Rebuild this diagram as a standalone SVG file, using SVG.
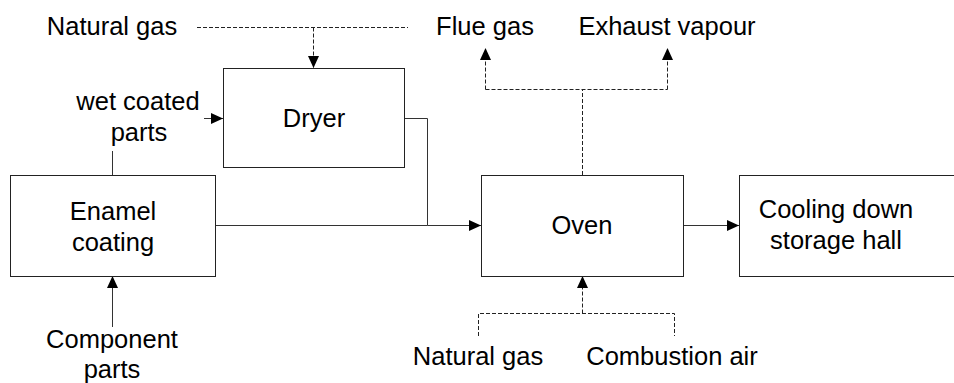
<svg xmlns="http://www.w3.org/2000/svg" width="954" height="383" viewBox="0 0 954 383">
<style>
.box{fill:#fff;stroke:#222;stroke-width:1}
.ln{fill:none;stroke:#333;stroke-width:1}
.dl{fill:none;stroke:#222;stroke-width:1;stroke-dasharray:4,2}
text{font-family:"Liberation Sans",Arial,sans-serif;font-size:25.5px;fill:#000;text-anchor:middle}
</style>
<defs>
<marker id="ah" markerUnits="userSpaceOnUse" markerWidth="12" markerHeight="11" refX="12" refY="5.5" orient="auto" viewBox="0 0 12 11">
<path d="M0,0 L12,5.5 L0,11 z" fill="#000"/>
</marker>
</defs>
<rect width="954" height="383" fill="#fff"/>
<g id="connectors">
<path class="dl" d="M197,27.5 H408"/>
<path class="dl" d="M313.5,27.5 V68" marker-end="url(#ah)"/>
<path class="ln" d="M112.5,175 V151"/>
<path class="ln" d="M204,118.5 H223" marker-end="url(#ah)"/>
<path class="ln" d="M404,118.5 H427.5 V225.5 H481" marker-end="url(#ah)"/>
<path class="ln" d="M215,225.5 H427.5"/>
<path class="ln" d="M683,225.5 H739" marker-end="url(#ah)"/>
<path class="ln" d="M112.5,327 V276" marker-end="url(#ah)"/>
<path class="dl" d="M582.5,175 V89.5"/>
<path class="dl" d="M485.5,89.5 H667.5"/>
<path class="dl" d="M485.5,89.5 V48" marker-end="url(#ah)"/>
<path class="dl" d="M667.5,89.5 V48" marker-end="url(#ah)"/>
<path class="dl" d="M478.5,336 V313.5 H674.5 V336"/>
<path class="dl" d="M582.5,313.5 V276" marker-end="url(#ah)"/>
</g>
<g id="dryer">
<rect class="box" x="223.5" y="68.5" width="181" height="99"/>
<text x="314" y="127">Dryer</text>
</g>
<g id="enamel">
<rect class="box" x="10.5" y="175.5" width="205" height="101"/>
<text x="113" y="220">Enamel</text>
<text x="113" y="251">coating</text>
</g>
<g id="oven">
<rect class="box" x="481.5" y="175.5" width="202" height="101"/>
<text x="582" y="234">Oven</text>
</g>
<g id="cooling">
<rect class="box" x="739.5" y="175.5" width="225" height="101"/>
<text x="836" y="218">Cooling down</text>
<text x="836" y="249">storage hall</text>
</g>
<g id="labels">
<text x="112" y="35">Natural gas</text>
<text x="485" y="35">Flue gas</text>
<text x="667" y="35">Exhaust vapour</text>
<text x="138" y="110">wet coated</text>
<text x="139" y="141">parts</text>
<text x="112" y="348">Component</text>
<text x="112" y="378">parts</text>
<text x="478" y="365">Natural gas</text>
<text x="672" y="365">Combustion air</text>
</g>
</svg>
